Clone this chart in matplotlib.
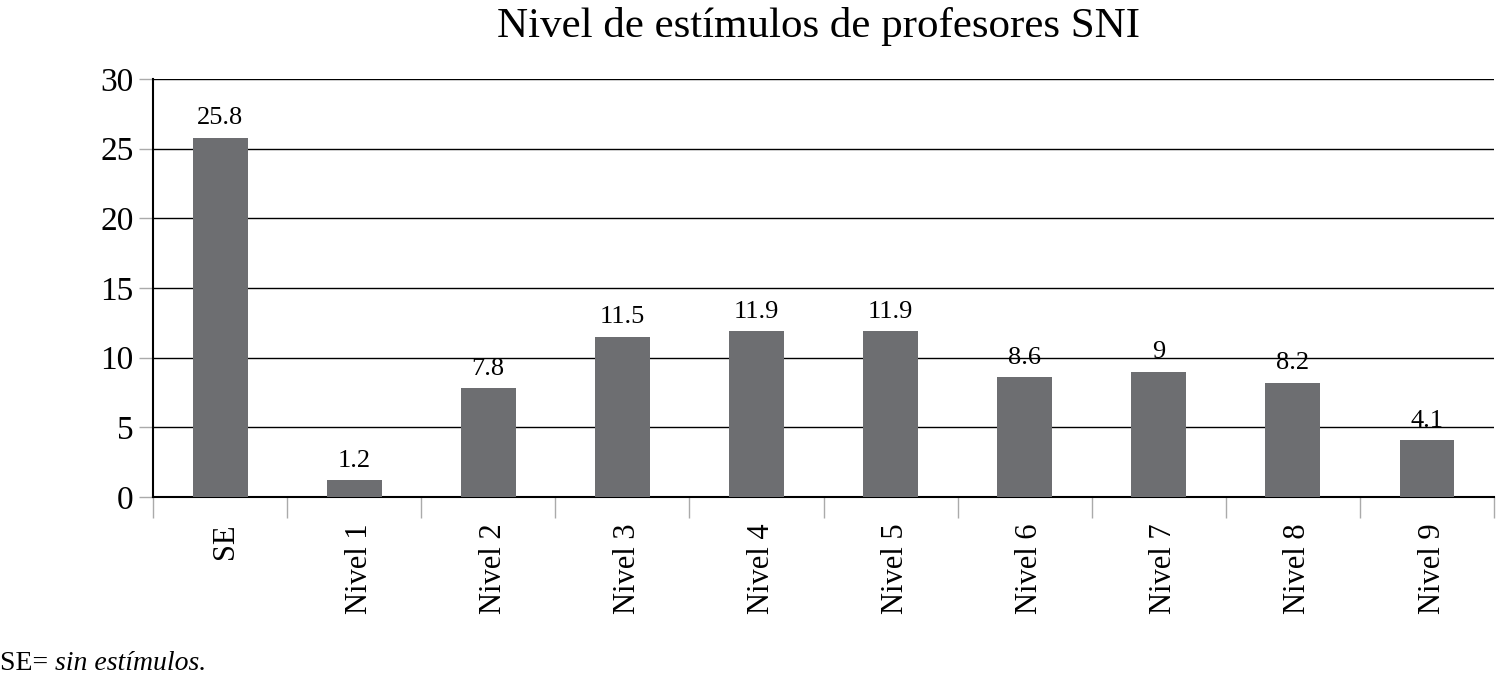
import matplotlib
matplotlib.use("Agg")
import matplotlib.pyplot as plt
import matplotlib.transforms as mtransforms
import numpy as np

categories = ["SE", "Nivel 1", "Nivel 2", "Nivel 3", "Nivel 4",
              "Nivel 5", "Nivel 6", "Nivel 7", "Nivel 8", "Nivel 9"]
values = [25.8, 1.2, 7.8, 11.5, 11.9, 11.9, 8.6, 9, 8.2, 4.1]
value_labels = ["25.8", "1.2", "7.8", "11.5", "11.9", "11.9", "8.6", "9", "8.2", "4.1"]
yticks = [0, 5, 10, 15, 20, 25, 30]

plt.rcParams['font.family'] = ['Liberation Serif', 'DejaVu Serif']

fig = plt.figure(figsize=(14.96, 6.76), dpi=100)
ax = fig.add_axes([0.1023, 0.2648, 0.8964, 0.6183])

x = np.arange(len(categories))
bars = ax.bar(x, values, width=0.41, color="#6d6e71", zorder=3)

for xi, v, lab in zip(x, values, value_labels):
	ax.text(xi, v + 0.6, lab, ha="center", va="bottom", fontsize=19, zorder=4)

ax.set_xlim(-0.5, len(categories) - 0.5)
ax.set_ylim(0, 30)
ax.set_yticks(yticks)
ax.set_yticklabels([str(t) for t in yticks], fontsize=24)
ax.yaxis.grid(True, color="black", linewidth=1.0, zorder=0)
ax.set_axisbelow(True)

# category labels, rotated
ax.set_xticks(x)
ax.set_xticklabels(categories, rotation=90, fontsize=22)
ax.tick_params(axis="x", length=0, pad=19)
shift = mtransforms.ScaledTranslation(5 / 100, 0, fig.dpi_scale_trans)
for lab in ax.get_xticklabels():
	lab.set_transform(lab.get_transform() + shift)
# boundary ticks between categories
ax.set_xticks(np.arange(-0.5, len(categories)), minor=True)
ax.tick_params(axis="x", which="minor", length=15, color="#aaaaaa", width=1)
ax.tick_params(axis="y", length=10, color="#aaaaaa", width=1, pad=4)

for s in ["top", "right"]:
	ax.spines[s].set_visible(False)
ax.spines["left"].set_linewidth(1.5)
ax.spines["bottom"].set_linewidth(1.5)

fig.text(0.547, 0.945, "Nivel de estímulos de profesores SNI", fontsize=31,
	ha="center", va="baseline")

# footnote: plain "SE=" followed by italic text
t1 = fig.text(0.0, 0.009, "SE= ", fontsize=20, ha="left", va="baseline")
fig.canvas.draw()
bb = t1.get_window_extent(renderer=fig.canvas.get_renderer())
fig.text(bb.x1 / fig.bbox.width, 0.009, "sin estímulos.", fontsize=20, style="italic",
	ha="left", va="baseline")

plt.savefig("out.png", dpi=100)
